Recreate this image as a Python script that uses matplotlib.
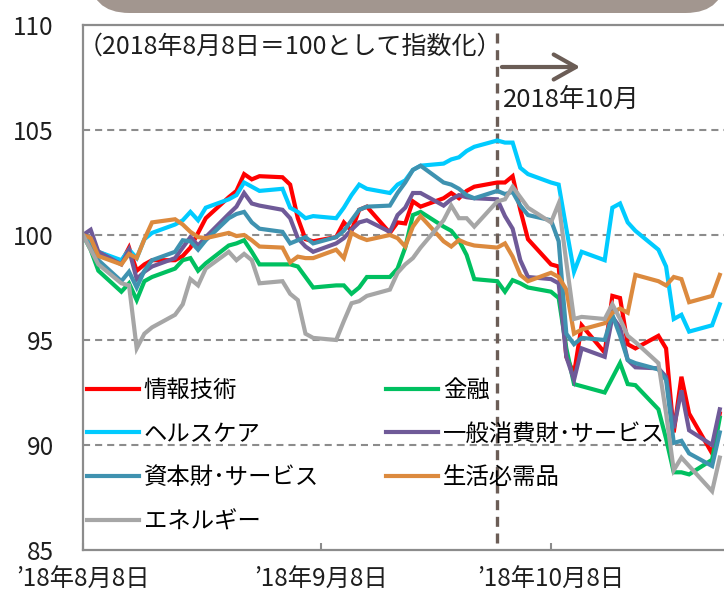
import matplotlib

matplotlib.use("Agg")
import matplotlib.dates as mdates
import matplotlib.pyplot as plt
import pandas as pd
from matplotlib.patches import FancyBboxPatch
from matplotlib.transforms import IdentityTransform

plt.rcParams["font.family"] = ["Noto Sans CJK JP", "DejaVu Sans"]

# weekdays 2018-08-08 .. 2018-10-30 (index, 2018/8/8 = 100)
dates = pd.bdate_range("2018-08-08", "2018-10-30")

info_tech = [
    100.0, 99.6, 99.2, 98.7, 99.4, 98.3, 98.6, 98.8, 98.8, 99.0,
    99.4, 100.1, 100.8, 101.8, 102.1, 102.9, 102.65, 102.8, 102.75, 102.4,
    100.8, 99.8, 99.7, 99.9, 100.6, 100.2, 101.2, 101.35, 100.1, 100.6,
    100.55, 101.6, 101.35, 101.75, 102.0, 101.75, 102.1, 102.3, 102.5, 102.5,
    102.8, 101.2, 99.8, 98.6, 98.5, 94.2, 93.4, 95.7, 94.4, 97.1,
    97.0, 94.8, 94.6, 95.2, 94.6, 90.6, 93.25, 91.5, 89.6, 91.5,
]
financials = [
    100.0, 99.3, 98.3, 97.3, 97.7, 96.9, 97.8, 98.0, 98.4, 98.8,
    98.9, 98.3, 98.65, 99.5, 99.6, 99.75, 99.2, 98.6, 98.6, 98.6,
    98.5, 98.0, 97.5, 97.6, 97.6, 97.2, 97.5, 98.0, 98.0, 98.4,
    99.4, 100.95, 101.1, 100.4, 100.2, 99.75, 99.05, 97.9, 97.8, 97.3,
    97.85, 97.7, 97.5, 97.3, 97.0, 94.6, 92.9, 92.8, 92.5, 93.2,
    93.9, 92.9, 92.85, 91.7, 90.3, 88.7, 88.7, 88.6, 89.3, 91.3,
]
health_care = [
    100.0, 99.6, 99.2, 98.8, 99.3, 98.9, 99.8, 100.1, 100.5, 100.7,
    101.1, 100.7, 101.3, 101.7, 101.9, 102.5, 102.3, 102.1, 102.2, 101.3,
    101.1, 100.8, 100.9, 100.8, 101.3, 101.9, 102.4, 102.2, 102.0, 102.4,
    102.6, 103.1, 103.3, 103.4, 103.6, 103.7, 104.0, 104.2, 104.5, 104.4,
    104.4, 103.2, 102.9, 102.5, 102.4, 100.3, 98.25, 99.2, 98.8, 101.3,
    101.5, 100.6, 100.2, 99.3, 98.5, 96.0, 96.2, 95.4, 95.7, 96.7,
]
cons_disc = [
    100.0, 100.25, 99.2, 98.6, 99.3, 97.9, 98.25, 98.5, 98.9, 99.4,
    99.9, 99.5, 99.9, 101.0, 101.35, 102.0, 101.5, 101.4, 101.2, 100.8,
    99.85, 99.45, 99.2, 99.6, 99.85, 100.25, 100.6, 100.7, 100.15, 100.95,
    101.3, 102.0, 102.0, 101.4, 101.7, 101.9, 101.8, 101.75, 101.7, 100.9,
    100.3, 98.8, 98.0, 97.9, 97.7, 94.2, 93.1, 94.6, 94.2, 96.1,
    95.6, 94.05, 93.7, 93.65, 93.25, 90.8, 92.6, 90.7, 90.0, 91.7,
]
industrials = [
    100.0, 99.4, 98.8, 97.8, 98.25, 97.5, 98.3, 98.8, 99.2, 99.75,
    99.7, 99.3, 99.75, 100.8, 101.0, 101.1, 100.6, 100.3, 100.15, 99.6,
    99.75, 99.9, 99.6, 99.9, 100.2, 100.7, 101.2, 101.35, 101.4, 102.0,
    102.5, 103.1, 103.3, 102.5, 102.4, 102.2, 101.9, 101.75, 102.1, 101.95,
    102.05, 101.4, 100.95, 100.7, 99.7, 95.3, 94.8, 95.1, 95.0, 96.2,
    95.2, 94.05, 93.9, 93.6, 93.1, 90.1, 90.2, 89.6, 89.0, 90.6,
]
cons_staples = [
    100.0, 99.85, 99.0, 98.6, 99.1, 98.9, 99.8, 100.6, 100.75, 100.5,
    100.15, 99.9, 99.85, 100.1, 99.95, 100.0, 99.75, 99.45, 99.4, 98.7,
    98.97, 98.9, 98.9, 99.3, 98.9, 100.1, 99.9, 99.76, 100.0, 99.85,
    99.45, 100.4, 100.9, 99.7, 99.45, 99.76, 99.6, 99.5, 99.4, 99.6,
    98.97, 98.1, 97.8, 98.2, 98.0, 97.4, 95.3, 95.5, 95.8, 96.3,
    96.5, 96.3, 98.1, 97.8, 97.6, 98.0, 97.9, 96.8, 97.1, 98.1,
]
energy = [
    100.0, 99.3, 98.6, 97.7, 97.6, 94.6, 95.3, 95.6, 96.2, 96.7,
    97.9, 97.6, 98.4, 99.2, 98.8, 99.1, 98.8, 97.7, 97.8, 97.2,
    96.9, 95.3, 95.1, 95.0, 95.9, 96.75, 96.85, 97.1, 97.4, 98.2,
    98.6, 98.9, 99.4, 100.7, 101.4, 100.8, 100.8, 100.4, 101.6, 101.7,
    102.3, 101.8, 101.3, 100.6, 101.5, 98.7, 96.0, 96.1, 96.0, 96.7,
    96.0, 95.2, 94.9, 93.9, 91.5, 88.8, 89.4, 89.0, 87.8, 89.4,
]

# drawing order = Excel series order (later on top)
series = [
    ("情報技術", info_tech, "#ff0000"),
    ("金融", financials, "#00c060"),
    ("ヘルスケア", health_care, "#00cbff"),
    ("一般消費財･サービス", cons_disc, "#6f5a98"),
    ("資本財･サービス", industrials, "#3f92b0"),
    ("生活必需品", cons_staples, "#dc8a3e"),
    ("エネルギー", energy, "#a6a6a6"),
]
legend_order = ["情報技術", "ヘルスケア", "資本財･サービス", "エネルギー",
                "金融", "一般消費財･サービス", "生活必需品"]

tick_dates = pd.to_datetime(["2018-08-08", "2018-09-08", "2018-10-08"])
tick_labels = ["’18年8月8日", "’18年9月8日", "’18年10月8日"]

GRID = "#8c8c8c"
BROWN = "#6b5d56"
TEXT = "#1e1e1e"

fig = plt.figure(figsize=(7.24, 5.93), dpi=100)
ax = fig.add_axes([83 / 724, 43 / 593, 641 / 724, 525 / 593])

handles = {}
for label, values, color in series:
    (line,) = ax.plot(dates, values, color=color, lw=3.0, label=label,
                      solid_joinstyle="miter")
    handles[label] = line

start = pd.Timestamp("2018-08-08")
ax.set_xlim(start, start + pd.Timedelta(days=83.55))
ax.set_ylim(85, 110)
ax.set_yticks([85, 90, 95, 100, 105, 110])
ax.set_xticks(tick_dates)
ax.set_xticklabels(tick_labels)

for yv in [90, 95, 100, 105]:
    ax.axhline(yv, color=GRID, lw=1.5, linestyle=(0, (3.4, 2.4)), zorder=0)

for side in ["left", "bottom", "top"]:
    ax.spines[side].set_color(GRID)
    ax.spines[side].set_linewidth(1.6)
ax.spines["right"].set_visible(False)

ax.tick_params(axis="y", length=0, pad=21, labelsize=17.5, labelcolor=TEXT)
ax.tick_params(axis="x", direction="in", length=5, width=1.5, color=GRID,
               pad=12, labelsize=17.5, labelcolor=TEXT)

# October marker
oct1 = pd.Timestamp("2018-10-01")
ax.axvline(oct1, ymin=0.013, ymax=0.99, color=BROWN, lw=2.4,
           linestyle=(0, (3.0, 2.0)), zorder=1)
ax.annotate("", xy=(mdates.date2num(oct1) + 10.8, 108.0),
            xytext=(mdates.date2num(oct1) + 0.6, 108.0),
            arrowprops=dict(arrowstyle="->,head_length=1.6,head_width=0.9",
                            lw=3, color=BROWN, mutation_scale=10,
                            shrinkA=0, shrinkB=0))
ax.text(mdates.date2num(oct1) + 0.8, 106.45, "2018年10月", fontsize=18.5,
        color=TEXT, ha="left", va="center")

ax.text(-0.008, 0.958, "（2018年8月8日＝100として指数化）", transform=ax.transAxes,
        fontsize=18, color=TEXT, ha="left", va="center")

ax.legend([handles[k] for k in legend_order], legend_order, ncol=2,
          loc="upper left", bbox_to_anchor=(0.006, 0.326), frameon=False,
          fontsize=16.8, handlelength=2.23, handletextpad=0.2,
          columnspacing=2.9, labelspacing=0.89, borderpad=0, borderaxespad=0)

# title banner peeking in at the top
fig.add_artist(FancyBboxPatch((89.5, 580), 636, 80,
                              boxstyle="round,pad=0,rounding_size=40",
                              transform=IdentityTransform(),
                              facecolor="#a2968f", edgecolor="none"))

fig.savefig("out.png", dpi=100)
